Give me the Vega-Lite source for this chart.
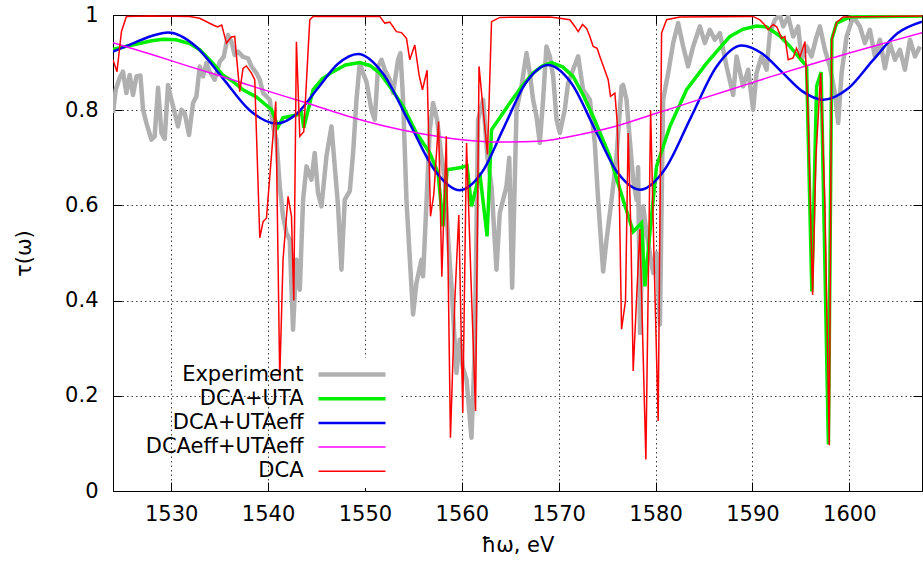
{
"$schema":"https://vega.github.io/schema/vega-lite/v6.json",
"width":809,"height":476,
"autosize":{"type":"none"},
"padding":{"left":113,"top":15,"right":1,"bottom":72},
"background":"white",
"config":{
 "font":"DejaVu Sans",
 "view":{"stroke":"black","strokeWidth":1},
 "axis":{"labelFont":"DejaVu Sans","labelFontSize":21,"labelColor":"black","titleFont":"DejaVu Sans","titleFontSize":21,"titleFontWeight":"normal","titleColor":"black","domain":false,"tickColor":"black","tickSize":-9,"gridColor":"black","gridDash":[1.5,3],"gridOpacity":0.75,"gridWidth":1}
},
"data":{"values":[
{"s":"Experiment","x":1524.00,"y":0.794},{"s":"Experiment","x":1524.28,"y":0.843},{"s":"Experiment","x":1524.69,"y":0.868},{"s":"Experiment","x":1525.03,"y":0.881},{"s":"Experiment","x":1525.38,"y":0.836},{"s":"Experiment","x":1525.72,"y":0.874},{"s":"Experiment","x":1526.06,"y":0.832},{"s":"Experiment","x":1526.42,"y":0.871},{"s":"Experiment","x":1526.83,"y":0.873},{"s":"Experiment","x":1527.10,"y":0.801},{"s":"Experiment","x":1527.45,"y":0.773},{"s":"Experiment","x":1527.96,"y":0.738},{"s":"Experiment","x":1528.30,"y":0.745},{"s":"Experiment","x":1528.65,"y":0.847},{"s":"Experiment","x":1529.00,"y":0.752},{"s":"Experiment","x":1529.34,"y":0.740},{"s":"Experiment","x":1529.68,"y":0.853},{"s":"Experiment","x":1530.03,"y":0.822},{"s":"Experiment","x":1530.37,"y":0.794},{"s":"Experiment","x":1530.71,"y":0.766},{"s":"Experiment","x":1531.06,"y":0.801},{"s":"Experiment","x":1531.40,"y":0.794},{"s":"Experiment","x":1531.85,"y":0.748},{"s":"Experiment","x":1532.26,"y":0.815},{"s":"Experiment","x":1532.61,"y":0.829},{"s":"Experiment","x":1532.95,"y":0.892},{"s":"Experiment","x":1533.29,"y":0.871},{"s":"Experiment","x":1533.64,"y":0.899},{"s":"Experiment","x":1533.98,"y":0.881},{"s":"Experiment","x":1534.50,"y":0.864},{"s":"Experiment","x":1535.02,"y":0.902},{"s":"Experiment","x":1535.43,"y":0.912},{"s":"Experiment","x":1535.87,"y":0.958},{"s":"Experiment","x":1536.22,"y":0.944},{"s":"Experiment","x":1536.56,"y":0.916},{"s":"Experiment","x":1536.91,"y":0.923},{"s":"Experiment","x":1537.42,"y":0.912},{"s":"Experiment","x":1537.94,"y":0.909},{"s":"Experiment","x":1538.29,"y":0.892},{"s":"Experiment","x":1538.80,"y":0.878},{"s":"Experiment","x":1539.15,"y":0.864},{"s":"Experiment","x":1539.49,"y":0.836},{"s":"Experiment","x":1539.84,"y":0.829},{"s":"Experiment","x":1540.18,"y":0.822},{"s":"Experiment","x":1540.52,"y":0.766},{"s":"Experiment","x":1540.87,"y":0.738},{"s":"Experiment","x":1541.21,"y":0.640},{"s":"Experiment","x":1541.55,"y":0.577},{"s":"Experiment","x":1541.90,"y":0.542},{"s":"Experiment","x":1542.24,"y":0.528},{"s":"Experiment","x":1542.58,"y":0.339},{"s":"Experiment","x":1542.93,"y":0.486},{"s":"Experiment","x":1543.28,"y":0.423},{"s":"Experiment","x":1543.62,"y":0.612},{"s":"Experiment","x":1543.97,"y":0.682},{"s":"Experiment","x":1544.48,"y":0.654},{"s":"Experiment","x":1544.82,"y":0.710},{"s":"Experiment","x":1545.16,"y":0.626},{"s":"Experiment","x":1545.52,"y":0.598},{"s":"Experiment","x":1546.03,"y":0.703},{"s":"Experiment","x":1546.55,"y":0.766},{"s":"Experiment","x":1546.89,"y":0.682},{"s":"Experiment","x":1547.23,"y":0.598},{"s":"Experiment","x":1547.58,"y":0.465},{"s":"Experiment","x":1547.92,"y":0.612},{"s":"Experiment","x":1548.44,"y":0.630},{"s":"Experiment","x":1548.78,"y":0.710},{"s":"Experiment","x":1549.13,"y":0.822},{"s":"Experiment","x":1549.47,"y":0.899},{"s":"Experiment","x":1549.81,"y":0.878},{"s":"Experiment","x":1550.16,"y":0.860},{"s":"Experiment","x":1550.68,"y":0.800},{"s":"Experiment","x":1551.02,"y":0.780},{"s":"Experiment","x":1551.36,"y":0.892},{"s":"Experiment","x":1551.71,"y":0.906},{"s":"Experiment","x":1552.05,"y":0.885},{"s":"Experiment","x":1552.57,"y":0.864},{"s":"Experiment","x":1552.91,"y":0.836},{"s":"Experiment","x":1553.42,"y":0.906},{"s":"Experiment","x":1553.67,"y":0.920},{"s":"Experiment","x":1553.94,"y":0.822},{"s":"Experiment","x":1554.29,"y":0.612},{"s":"Experiment","x":1554.60,"y":0.500},{"s":"Experiment","x":1554.97,"y":0.371},{"s":"Experiment","x":1555.32,"y":0.437},{"s":"Experiment","x":1555.84,"y":0.486},{"s":"Experiment","x":1556.00,"y":0.451},{"s":"Experiment","x":1556.18,"y":0.528},{"s":"Experiment","x":1556.70,"y":0.759},{"s":"Experiment","x":1557.04,"y":0.815},{"s":"Experiment","x":1557.45,"y":0.780},{"s":"Experiment","x":1557.90,"y":0.703},{"s":"Experiment","x":1558.24,"y":0.654},{"s":"Experiment","x":1558.59,"y":0.528},{"s":"Experiment","x":1558.97,"y":0.420},{"s":"Experiment","x":1559.45,"y":0.248},{"s":"Experiment","x":1559.79,"y":0.318},{"s":"Experiment","x":1560.10,"y":0.260},{"s":"Experiment","x":1560.49,"y":0.234},{"s":"Experiment","x":1561.00,"y":0.112},{"s":"Experiment","x":1561.34,"y":0.300},{"s":"Experiment","x":1561.68,"y":0.780},{"s":"Experiment","x":1562.20,"y":0.822},{"s":"Experiment","x":1562.65,"y":0.700},{"s":"Experiment","x":1563.07,"y":0.640},{"s":"Experiment","x":1563.58,"y":0.465},{"s":"Experiment","x":1563.92,"y":0.584},{"s":"Experiment","x":1564.61,"y":0.640},{"s":"Experiment","x":1564.90,"y":0.700},{"s":"Experiment","x":1565.20,"y":0.427},{"s":"Experiment","x":1565.65,"y":0.801},{"s":"Experiment","x":1566.16,"y":0.850},{"s":"Experiment","x":1566.68,"y":0.920},{"s":"Experiment","x":1567.02,"y":0.878},{"s":"Experiment","x":1567.36,"y":0.822},{"s":"Experiment","x":1567.71,"y":0.787},{"s":"Experiment","x":1568.05,"y":0.731},{"s":"Experiment","x":1568.39,"y":0.822},{"s":"Experiment","x":1568.74,"y":0.934},{"s":"Experiment","x":1569.09,"y":0.913},{"s":"Experiment","x":1569.43,"y":0.871},{"s":"Experiment","x":1569.78,"y":0.780},{"s":"Experiment","x":1570.12,"y":0.752},{"s":"Experiment","x":1570.63,"y":0.801},{"s":"Experiment","x":1570.97,"y":0.857},{"s":"Experiment","x":1571.49,"y":0.885},{"s":"Experiment","x":1572.01,"y":0.913},{"s":"Experiment","x":1572.52,"y":0.843},{"s":"Experiment","x":1573.22,"y":0.822},{"s":"Experiment","x":1573.73,"y":0.731},{"s":"Experiment","x":1574.07,"y":0.612},{"s":"Experiment","x":1574.59,"y":0.461},{"s":"Experiment","x":1574.94,"y":0.528},{"s":"Experiment","x":1575.46,"y":0.612},{"s":"Experiment","x":1575.97,"y":0.703},{"s":"Experiment","x":1576.49,"y":0.850},{"s":"Experiment","x":1576.65,"y":0.853},{"s":"Experiment","x":1577.00,"y":0.822},{"s":"Experiment","x":1577.34,"y":0.738},{"s":"Experiment","x":1577.69,"y":0.654},{"s":"Experiment","x":1578.04,"y":0.612},{"s":"Experiment","x":1578.20,"y":0.680},{"s":"Experiment","x":1578.40,"y":0.332},{"s":"Experiment","x":1578.72,"y":0.598},{"s":"Experiment","x":1579.07,"y":0.542},{"s":"Experiment","x":1579.76,"y":0.458},{"s":"Experiment","x":1580.10,"y":0.500},{"s":"Experiment","x":1580.45,"y":0.350},{"s":"Experiment","x":1580.78,"y":0.822},{"s":"Experiment","x":1581.30,"y":0.878},{"s":"Experiment","x":1581.82,"y":0.941},{"s":"Experiment","x":1582.33,"y":0.983},{"s":"Experiment","x":1582.85,"y":0.934},{"s":"Experiment","x":1583.36,"y":0.892},{"s":"Experiment","x":1583.88,"y":0.934},{"s":"Experiment","x":1584.57,"y":0.976},{"s":"Experiment","x":1585.09,"y":0.941},{"s":"Experiment","x":1585.60,"y":0.969},{"s":"Experiment","x":1586.12,"y":0.948},{"s":"Experiment","x":1586.64,"y":0.962},{"s":"Experiment","x":1587.33,"y":0.892},{"s":"Experiment","x":1588.01,"y":0.832},{"s":"Experiment","x":1588.36,"y":0.913},{"s":"Experiment","x":1589.04,"y":0.850},{"s":"Experiment","x":1589.56,"y":0.885},{"s":"Experiment","x":1590.07,"y":0.801},{"s":"Experiment","x":1590.42,"y":0.878},{"s":"Experiment","x":1590.94,"y":0.913},{"s":"Experiment","x":1591.46,"y":0.885},{"s":"Experiment","x":1591.80,"y":0.962},{"s":"Experiment","x":1592.32,"y":0.990},{"s":"Experiment","x":1592.83,"y":1.0},{"s":"Experiment","x":1593.17,"y":0.976},{"s":"Experiment","x":1593.69,"y":0.997},{"s":"Experiment","x":1594.20,"y":0.955},{"s":"Experiment","x":1594.72,"y":0.976},{"s":"Experiment","x":1595.07,"y":0.906},{"s":"Experiment","x":1595.59,"y":0.934},{"s":"Experiment","x":1596.10,"y":0.913},{"s":"Experiment","x":1596.62,"y":0.955},{"s":"Experiment","x":1596.96,"y":0.976},{"s":"Experiment","x":1597.48,"y":0.927},{"s":"Experiment","x":1597.99,"y":0.892},{"s":"Experiment","x":1598.51,"y":0.836},{"s":"Experiment","x":1598.85,"y":0.773},{"s":"Experiment","x":1599.20,"y":0.878},{"s":"Experiment","x":1599.72,"y":0.955},{"s":"Experiment","x":1600.40,"y":0.997},{"s":"Experiment","x":1601.09,"y":0.976},{"s":"Experiment","x":1601.61,"y":0.941},{"s":"Experiment","x":1602.12,"y":0.969},{"s":"Experiment","x":1602.64,"y":0.913},{"s":"Experiment","x":1603.16,"y":0.948},{"s":"Experiment","x":1603.67,"y":0.888},{"s":"Experiment","x":1604.19,"y":0.941},{"s":"Experiment","x":1604.71,"y":0.906},{"s":"Experiment","x":1605.22,"y":0.927},{"s":"Experiment","x":1605.74,"y":0.885},{"s":"Experiment","x":1606.26,"y":0.948},{"s":"Experiment","x":1606.77,"y":0.913},{"s":"Experiment","x":1607.29,"y":0.934},
{"s":"DCA+UTA","x":1524.00,"y":0.928},{"s":"DCA+UTA","x":1526.24,"y":0.938},{"s":"DCA+UTA","x":1528.00,"y":0.946},{"s":"DCA+UTA","x":1529.16,"y":0.949},{"s":"DCA+UTA","x":1530.50,"y":0.948},{"s":"DCA+UTA","x":1531.92,"y":0.940},{"s":"DCA+UTA","x":1532.95,"y":0.927},{"s":"DCA+UTA","x":1534.30,"y":0.899},{"s":"DCA+UTA","x":1535.32,"y":0.874},{"s":"DCA+UTA","x":1536.40,"y":0.860},{"s":"DCA+UTA","x":1537.42,"y":0.843},{"s":"DCA+UTA","x":1538.80,"y":0.828},{"s":"DCA+UTA","x":1540.36,"y":0.801},{"s":"DCA+UTA","x":1541.04,"y":0.765},{"s":"DCA+UTA","x":1541.53,"y":0.784},{"s":"DCA+UTA","x":1542.93,"y":0.790},{"s":"DCA+UTA","x":1543.45,"y":0.795},{"s":"DCA+UTA","x":1543.69,"y":0.763},{"s":"DCA+UTA","x":1544.65,"y":0.843},{"s":"DCA+UTA","x":1545.60,"y":0.866},{"s":"DCA+UTA","x":1546.71,"y":0.881},{"s":"DCA+UTA","x":1548.00,"y":0.895},{"s":"DCA+UTA","x":1549.47,"y":0.900},{"s":"DCA+UTA","x":1550.50,"y":0.894},{"s":"DCA+UTA","x":1551.54,"y":0.878},{"s":"DCA+UTA","x":1552.70,"y":0.846},{"s":"DCA+UTA","x":1553.94,"y":0.808},{"s":"DCA+UTA","x":1555.32,"y":0.752},{"s":"DCA+UTA","x":1556.70,"y":0.710},{"s":"DCA+UTA","x":1557.55,"y":0.668},{"s":"DCA+UTA","x":1558.07,"y":0.556},{"s":"DCA+UTA","x":1558.48,"y":0.675},{"s":"DCA+UTA","x":1559.79,"y":0.679},{"s":"DCA+UTA","x":1560.55,"y":0.683},{"s":"DCA+UTA","x":1561.00,"y":0.598},{"s":"DCA+UTA","x":1561.86,"y":0.668},{"s":"DCA+UTA","x":1562.61,"y":0.535},{"s":"DCA+UTA","x":1563.07,"y":0.759},{"s":"DCA+UTA","x":1564.96,"y":0.815},{"s":"DCA+UTA","x":1566.20,"y":0.850},{"s":"DCA+UTA","x":1567.36,"y":0.878},{"s":"DCA+UTA","x":1568.30,"y":0.893},{"s":"DCA+UTA","x":1569.26,"y":0.900},{"s":"DCA+UTA","x":1570.40,"y":0.891},{"s":"DCA+UTA","x":1571.49,"y":0.871},{"s":"DCA+UTA","x":1572.50,"y":0.833},{"s":"DCA+UTA","x":1573.56,"y":0.787},{"s":"DCA+UTA","x":1575.28,"y":0.703},{"s":"DCA+UTA","x":1576.65,"y":0.612},{"s":"DCA+UTA","x":1577.69,"y":0.545},{"s":"DCA+UTA","x":1578.56,"y":0.563},{"s":"DCA+UTA","x":1578.90,"y":0.430},{"s":"DCA+UTA","x":1579.41,"y":0.542},{"s":"DCA+UTA","x":1580.10,"y":0.682},{"s":"DCA+UTA","x":1581.48,"y":0.766},{"s":"DCA+UTA","x":1583.20,"y":0.843},{"s":"DCA+UTA","x":1585.27,"y":0.899},{"s":"DCA+UTA","x":1587.68,"y":0.955},{"s":"DCA+UTA","x":1589.00,"y":0.970},{"s":"DCA+UTA","x":1590.42,"y":0.977},{"s":"DCA+UTA","x":1591.46,"y":0.975},{"s":"DCA+UTA","x":1592.83,"y":0.956},{"s":"DCA+UTA","x":1593.86,"y":0.934},{"s":"DCA+UTA","x":1594.90,"y":0.909},{"s":"DCA+UTA","x":1595.59,"y":0.892},{"s":"DCA+UTA","x":1596.13,"y":0.419},{"s":"DCA+UTA","x":1596.62,"y":0.850},{"s":"DCA+UTA","x":1597.09,"y":0.880},{"s":"DCA+UTA","x":1597.84,"y":0.098},{"s":"DCA+UTA","x":1598.20,"y":0.950},{"s":"DCA+UTA","x":1598.69,"y":0.983},{"s":"DCA+UTA","x":1600.06,"y":0.996},{"s":"DCA+UTA","x":1607.50,"y":0.998},
{"s":"DCA+UTAeff","x":1524.00,"y":0.923},{"s":"DCA+UTAeff","x":1526.00,"y":0.940},{"s":"DCA+UTAeff","x":1528.00,"y":0.956},{"s":"DCA+UTAeff","x":1529.70,"y":0.963},{"s":"DCA+UTAeff","x":1532.50,"y":0.935},{"s":"DCA+UTAeff","x":1535.30,"y":0.868},{"s":"DCA+UTAeff","x":1538.10,"y":0.800},{"s":"DCA+UTAeff","x":1540.90,"y":0.772},{"s":"DCA+UTAeff","x":1543.00,"y":0.793},{"s":"DCA+UTAeff","x":1545.10,"y":0.845},{"s":"DCA+UTAeff","x":1547.20,"y":0.897},{"s":"DCA+UTAeff","x":1549.30,"y":0.918},{"s":"DCA+UTAeff","x":1551.90,"y":0.876},{"s":"DCA+UTAeff","x":1554.55,"y":0.775},{"s":"DCA+UTAeff","x":1557.20,"y":0.674},{"s":"DCA+UTAeff","x":1559.80,"y":0.632},{"s":"DCA+UTAeff","x":1562.10,"y":0.670},{"s":"DCA+UTAeff","x":1564.35,"y":0.764},{"s":"DCA+UTAeff","x":1566.60,"y":0.857},{"s":"DCA+UTAeff","x":1568.90,"y":0.895},{"s":"DCA+UTAeff","x":1571.30,"y":0.857},{"s":"DCA+UTAeff","x":1573.65,"y":0.764},{"s":"DCA+UTAeff","x":1576.00,"y":0.671},{"s":"DCA+UTAeff","x":1578.40,"y":0.633},{"s":"DCA+UTAeff","x":1581.00,"y":0.677},{"s":"DCA+UTAeff","x":1583.65,"y":0.785},{"s":"DCA+UTAeff","x":1586.30,"y":0.892},{"s":"DCA+UTAeff","x":1588.90,"y":0.936},{"s":"DCA+UTAeff","x":1591.00,"y":0.919},{"s":"DCA+UTAeff","x":1593.10,"y":0.879},{"s":"DCA+UTAeff","x":1595.20,"y":0.839},{"s":"DCA+UTAeff","x":1597.30,"y":0.822},{"s":"DCA+UTAeff","x":1599.90,"y":0.846},{"s":"DCA+UTAeff","x":1602.40,"y":0.904},{"s":"DCA+UTAeff","x":1605.00,"y":0.962},{"s":"DCA+UTAeff","x":1607.50,"y":0.986},
{"s":"DCAeff+UTAeff","x":1524,"y":0.942},{"s":"DCAeff+UTAeff","x":1528,"y":0.917},{"s":"DCAeff+UTAeff","x":1532,"y":0.891},{"s":"DCAeff+UTAeff","x":1536,"y":0.866},{"s":"DCAeff+UTAeff","x":1540,"y":0.840},{"s":"DCAeff+UTAeff","x":1544,"y":0.815},{"s":"DCAeff+UTAeff","x":1548,"y":0.789},{"s":"DCAeff+UTAeff","x":1552,"y":0.767},{"s":"DCAeff+UTAeff","x":1556,"y":0.750},{"s":"DCAeff+UTAeff","x":1560,"y":0.738},{"s":"DCAeff+UTAeff","x":1564,"y":0.733},{"s":"DCAeff+UTAeff","x":1568,"y":0.735},{"s":"DCAeff+UTAeff","x":1572,"y":0.748},{"s":"DCAeff+UTAeff","x":1576,"y":0.767},{"s":"DCAeff+UTAeff","x":1580,"y":0.793},{"s":"DCAeff+UTAeff","x":1584,"y":0.819},{"s":"DCAeff+UTAeff","x":1588,"y":0.845},{"s":"DCAeff+UTAeff","x":1592,"y":0.871},{"s":"DCAeff+UTAeff","x":1596,"y":0.896},{"s":"DCAeff+UTAeff","x":1600,"y":0.920},{"s":"DCAeff+UTAeff","x":1604,"y":0.943},{"s":"DCAeff+UTAeff","x":1607.5,"y":0.963},
{"s":"DCA","x":1524.00,"y":0.906},{"s":"DCA","x":1524.41,"y":0.881},{"s":"DCA","x":1524.87,"y":0.965},{"s":"DCA","x":1525.38,"y":0.997},{"s":"DCA","x":1527.79,"y":0.998},{"s":"DCA","x":1531.92,"y":0.997},{"s":"DCA","x":1532.95,"y":0.993},{"s":"DCA","x":1534.33,"y":0.979},{"s":"DCA","x":1534.80,"y":0.975},{"s":"DCA","x":1535.22,"y":0.979},{"s":"DCA","x":1535.71,"y":0.941},{"s":"DCA","x":1536.22,"y":0.954},{"s":"DCA","x":1536.56,"y":0.955},{"s":"DCA","x":1537.08,"y":0.839},{"s":"DCA","x":1537.42,"y":0.888},{"s":"DCA","x":1537.77,"y":0.893},{"s":"DCA","x":1538.29,"y":0.878},{"s":"DCA","x":1538.63,"y":0.864},{"s":"DCA","x":1539.15,"y":0.532},{"s":"DCA","x":1539.49,"y":0.566},{"s":"DCA","x":1539.84,"y":0.573},{"s":"DCA","x":1540.80,"y":0.818},{"s":"DCA","x":1541.21,"y":0.236},{"s":"DCA","x":1541.55,"y":0.486},{"s":"DCA","x":1542.07,"y":0.619},{"s":"DCA","x":1542.42,"y":0.577},{"s":"DCA","x":1542.66,"y":0.400},{"s":"DCA","x":1542.93,"y":0.944},{"s":"DCA","x":1543.28,"y":0.745},{"s":"DCA","x":1543.69,"y":0.755},{"s":"DCA","x":1544.31,"y":0.990},{"s":"DCA","x":1544.65,"y":0.997},{"s":"DCA","x":1551.54,"y":0.997},{"s":"DCA","x":1552.05,"y":0.983},{"s":"DCA","x":1552.57,"y":0.985},{"s":"DCA","x":1553.26,"y":0.965},{"s":"DCA","x":1553.78,"y":0.963},{"s":"DCA","x":1554.29,"y":0.951},{"s":"DCA","x":1554.63,"y":0.906},{"s":"DCA","x":1555.15,"y":0.937},{"s":"DCA","x":1555.59,"y":0.874},{"s":"DCA","x":1555.94,"y":0.843},{"s":"DCA","x":1556.42,"y":0.884},{"s":"DCA","x":1556.77,"y":0.577},{"s":"DCA","x":1557.11,"y":0.623},{"s":"DCA","x":1557.60,"y":0.776},{"s":"DCA","x":1557.94,"y":0.450},{"s":"DCA","x":1558.40,"y":0.745},{"s":"DCA","x":1558.83,"y":0.112},{"s":"DCA","x":1559.28,"y":0.400},{"s":"DCA","x":1559.69,"y":0.580},{"s":"DCA","x":1560.10,"y":0.164},{"s":"DCA","x":1560.49,"y":0.731},{"s":"DCA","x":1560.94,"y":0.450},{"s":"DCA","x":1561.42,"y":0.168},{"s":"DCA","x":1561.78,"y":0.892},{"s":"DCA","x":1562.65,"y":0.707},{"s":"DCA","x":1563.07,"y":0.986},{"s":"DCA","x":1563.92,"y":0.995},{"s":"DCA","x":1569.09,"y":0.996},{"s":"DCA","x":1570.12,"y":0.993},{"s":"DCA","x":1571.15,"y":0.990},{"s":"DCA","x":1571.67,"y":0.976},{"s":"DCA","x":1572.01,"y":0.965},{"s":"DCA","x":1572.46,"y":0.980},{"s":"DCA","x":1572.88,"y":0.972},{"s":"DCA","x":1573.22,"y":0.955},{"s":"DCA","x":1573.56,"y":0.934},{"s":"DCA","x":1573.97,"y":0.930},{"s":"DCA","x":1574.25,"y":0.913},{"s":"DCA","x":1575.11,"y":0.864},{"s":"DCA","x":1575.35,"y":0.829},{"s":"DCA","x":1575.80,"y":0.836},{"s":"DCA","x":1576.03,"y":0.777},{"s":"DCA","x":1576.24,"y":0.640},{"s":"DCA","x":1576.49,"y":0.340},{"s":"DCA","x":1576.90,"y":0.400},{"s":"DCA","x":1577.17,"y":0.752},{"s":"DCA","x":1577.45,"y":0.550},{"s":"DCA","x":1577.69,"y":0.252},{"s":"DCA","x":1578.38,"y":0.550},{"s":"DCA","x":1579.00,"y":0.066},{"s":"DCA","x":1579.49,"y":0.800},{"s":"DCA","x":1579.83,"y":0.500},{"s":"DCA","x":1580.27,"y":0.147},{"s":"DCA","x":1580.62,"y":0.962},{"s":"DCA","x":1581.14,"y":0.990},{"s":"DCA","x":1582.51,"y":0.996},{"s":"DCA","x":1590.05,"y":0.997},{"s":"DCA","x":1590.76,"y":0.990},{"s":"DCA","x":1591.28,"y":0.979},{"s":"DCA","x":1591.62,"y":0.969},{"s":"DCA","x":1592.14,"y":0.980},{"s":"DCA","x":1592.52,"y":0.975},{"s":"DCA","x":1593.01,"y":0.951},{"s":"DCA","x":1593.35,"y":0.955},{"s":"DCA","x":1593.69,"y":0.906},{"s":"DCA","x":1594.20,"y":0.910},{"s":"DCA","x":1594.55,"y":0.930},{"s":"DCA","x":1594.90,"y":0.912},{"s":"DCA","x":1595.42,"y":0.944},{"s":"DCA","x":1595.73,"y":0.800},{"s":"DCA","x":1596.21,"y":0.412},{"s":"DCA","x":1596.55,"y":0.700},{"s":"DCA","x":1597.04,"y":0.878},{"s":"DCA","x":1597.48,"y":0.600},{"s":"DCA","x":1597.93,"y":0.096},{"s":"DCA","x":1598.18,"y":0.948},{"s":"DCA","x":1598.70,"y":0.985},{"s":"DCA","x":1599.37,"y":0.996},{"s":"DCA","x":1607.50,"y":0.998}
]},
"encoding":{
 "x":{"field":"x","type":"quantitative","scale":{"domain":[1524,1607.5],"nice":false,"zero":false},"axis":{"orient":"bottom","values":[1530,1540,1550,1560,1570,1580,1590,1600],"format":"d","title":"ħω, eV","labelPadding":21,"titlePadding":10}},
 "y":{"field":"y","type":"quantitative","scale":{"domain":[0,1],"nice":false},"axis":{"orient":"left","values":[0,0.2,0.4,0.6,0.8,1],"format":"~g","title":"τ(ω)","labelPadding":24,"titlePadding":30}},
 "color":{"field":"s","type":"nominal","scale":{"domain":["Experiment","DCA+UTA","DCA+UTAeff","DCAeff+UTAeff","DCA"],"range":["#b0b0b0","#00ee00","#0000ee","#ff00ff","#ff0000"]},
  "legend":{"title":null,"orient":"none","legendX":180,"legendY":343,"symbolType":"M-3.35,0H3.35","symbolSize":400,"symbolStrokeWidth":2,"symbolOffset":42.5,"labelFontSize":21,"labelFont":"DejaVu Sans","labelColor":"black","labelAlign":"right","labelOffset":-59,"labelLimit":400,"rowPadding":2.2,"fillColor":"white","padding":6,"symbolOpacity":1,
   "encode":{"symbols":{"update":{"strokeWidth":{"signal":"datum.value==='Experiment'?4.5:datum.value==='DCA+UTA'?3.5:datum.value==='DCA+UTAeff'?2.5:1.5"}}}}}}
},
"layer":[
 {"layer":[
  {"transform":[{"filter":"datum.s==='Experiment'"}],"mark":{"type":"line","strokeWidth":4.5,"clip":true,"strokeJoin":"round"}},
  {"transform":[{"filter":"datum.s==='DCA+UTA'"}],"mark":{"type":"line","strokeWidth":3.5,"clip":true}},
  {"transform":[{"filter":"datum.s==='DCA+UTAeff'"}],"mark":{"type":"line","strokeWidth":2.5,"clip":true,"interpolate":"monotone"}},
  {"transform":[{"filter":"datum.s==='DCAeff+UTAeff'"}],"mark":{"type":"line","strokeWidth":1.5,"clip":true,"interpolate":"monotone"}}
 ]},
 {"transform":[{"filter":"datum.s==='DCA'"}],"mark":{"type":"line","strokeWidth":1.5,"clip":true},
  "encoding":{
   "x":{"field":"x","type":"quantitative","scale":{"domain":[1524,1607.5],"nice":false,"zero":false},"axis":{"orient":"top","values":[1530,1540,1550,1560,1570,1580,1590,1600],"labels":false,"title":null,"grid":false}},
   "y":{"field":"y","type":"quantitative","scale":{"domain":[0,1],"nice":false},"axis":{"orient":"right","values":[0,0.2,0.4,0.6,0.8,1],"labels":false,"title":null,"grid":false}}
  }}
],
"resolve":{"axis":{"x":"independent","y":"independent"}}
}
